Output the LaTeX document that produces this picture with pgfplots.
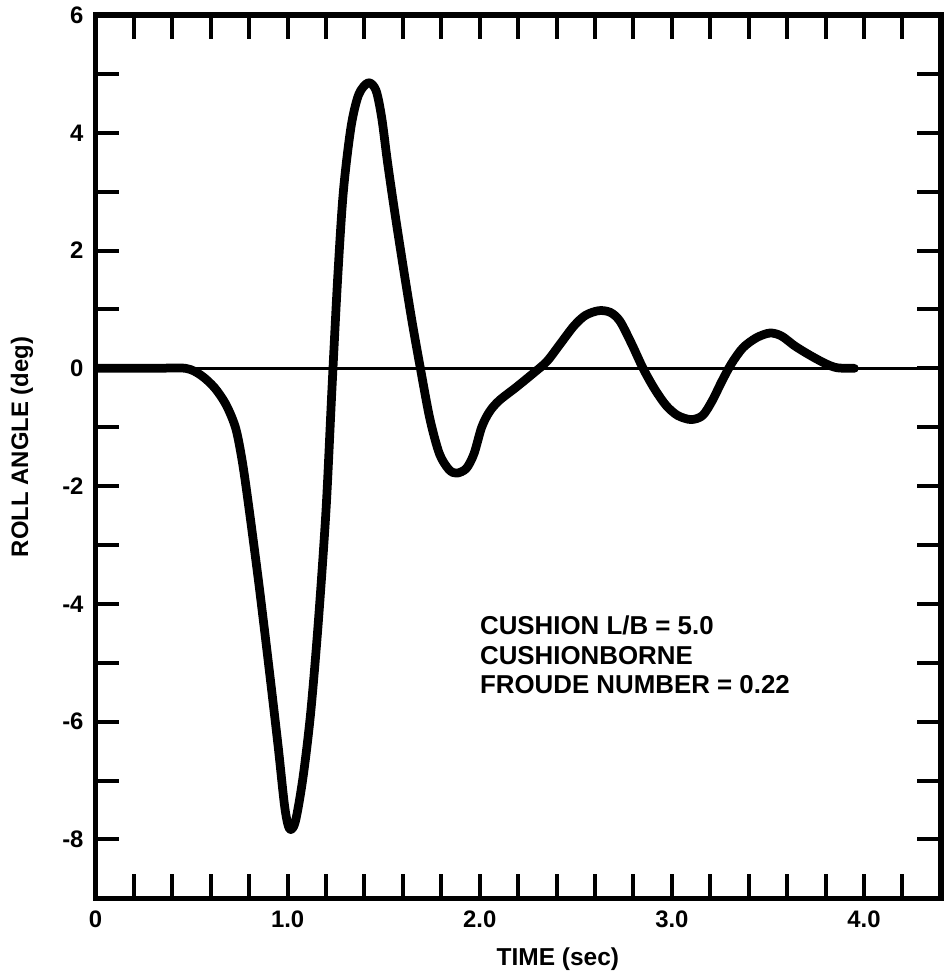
\documentclass[border=0pt]{standalone}
\usepackage{fontspec}
\setmainfont{Liberation Sans}
\usepackage{pgfplots}
\pgfplotsset{compat=1.18}
\begin{document}
\begin{tikzpicture}
\begin{axis}[
    scale only axis,
    width=425pt,
    height=444pt,
    xmin=0, xmax=4.4,
    ymin=-9, ymax=6,
    xtick={0,1,2,3,4},
    xticklabels={0,1.0,2.0,3.0,4.0},
    minor xtick={0.2,0.4,0.6,0.8,1.2,1.4,1.6,1.8,2.2,2.4,2.6,2.8,3.2,3.4,3.6,3.8,4.2},
    ytick={-8,-6,-4,-2,0,2,4,6},
    yticklabels={-8,-6,-4,-2,0,2,4,6},
    minor ytick={-7,-5,-3,-1,1,3,5},
    major tick length=12pt,
    minor tick length=12pt,
    tick style={black, line width=2pt},
    minor tick style={black, line width=2pt},
    axis line style={line width=2.8pt},
    tick label style={font=\fontsize{12}{14}\selectfont\bfseries},
    yticklabel style={xshift=-2.5pt},
    xticklabel style={yshift=-3pt},
    xlabel={TIME (sec)},
    ylabel={ROLL ANGLE (deg)},
    xlabel style={font=\fontsize{12.3}{14}\selectfont\bfseries,
        at={(axis description cs:0.547,-0.0687)}, anchor=center},
    ylabel style={font=\fontsize{12}{14}\selectfont\bfseries,
        at={(axis description cs:-0.087,0.511)}, anchor=center},
]

% zero reference line
\addplot[black, line width=1.6pt] coordinates {(0,0) (4.4,0)};

% roll angle response
\addplot[black, line width=4.4pt, smooth, tension=0.5, line join=round, line cap=round] coordinates {
    (0,0) (0.3,0) (0.47,0) (0.55,-0.12) (0.62,-0.33) (0.68,-0.62)
    (0.73,-1.02) (0.765,-1.6) (0.80,-2.4) (0.85,-3.65) (0.90,-5.0)
    (0.95,-6.4) (0.985,-7.45) (1.01,-7.82) (1.04,-7.7) (1.08,-6.95)
    (1.12,-5.85) (1.16,-4.3) (1.20,-2.4) (1.23,-0.4) (1.26,1.5)
    (1.29,3.0) (1.33,4.1) (1.37,4.65) (1.42,4.85) (1.46,4.72)
    (1.49,4.25) (1.52,3.5) (1.56,2.6) (1.61,1.55) (1.65,0.75)
    (1.69,0.02) (1.74,-0.85) (1.79,-1.45) (1.84,-1.72) (1.88,-1.78)
    (1.93,-1.7) (1.97,-1.45) (2.01,-1.0) (2.05,-0.74) (2.10,-0.55)
    (2.19,-0.32) (2.28,-0.08) (2.35,0.12) (2.42,0.42) (2.49,0.72)
    (2.55,0.9) (2.62,0.98) (2.68,0.95) (2.73,0.8) (2.79,0.42)
    (2.85,0.0) (2.91,-0.35) (2.97,-0.63) (3.03,-0.8) (3.10,-0.87)
    (3.16,-0.8) (3.21,-0.55) (3.26,-0.22) (3.31,0.08) (3.37,0.35)
    (3.44,0.52) (3.51,0.6) (3.57,0.55) (3.64,0.38) (3.72,0.22)
    (3.80,0.08) (3.86,0.01) (3.95,0)
};

\node[anchor=north west, inner sep=0pt, align=left,
      font=\fontsize{13}{15}\selectfont\bfseries]
    at (axis cs:2.0,-4.19) {CUSHION L/B = 5.0\\CUSHIONBORNE\\FROUDE NUMBER = 0.22};

\end{axis}
\path ([shift={(-48pt,-38pt)}]current axis.south west)
    rectangle ([shift={(3.5pt,6.5pt)}]current axis.north east);
\end{tikzpicture}
\end{document}
